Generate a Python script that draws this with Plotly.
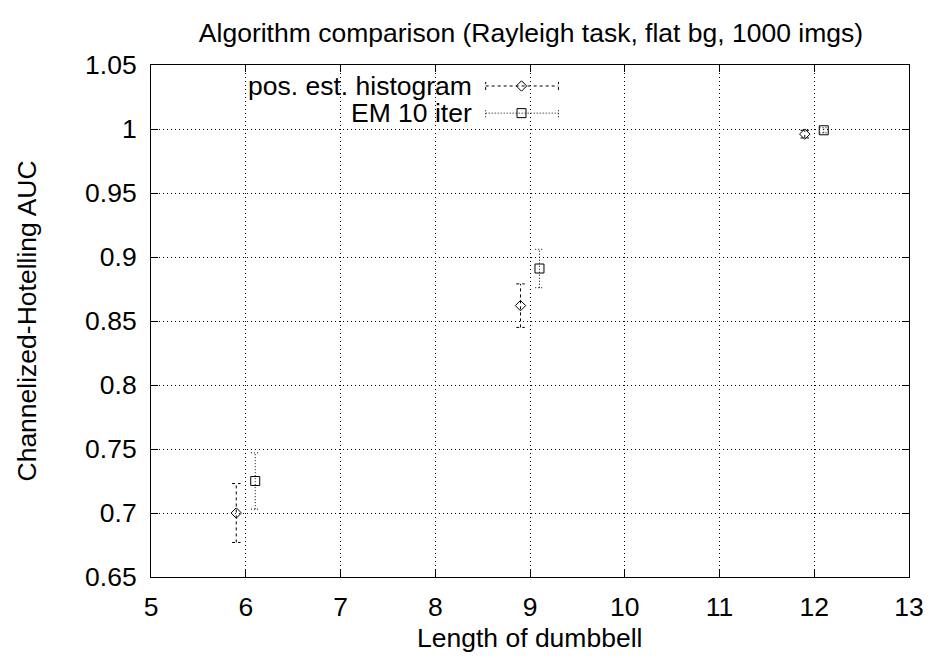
import plotly.graph_objects as go

# Data
hist_x = [5.9, 8.9, 11.9]
hist_y = [0.700, 0.862, 0.996]
hist_err = [0.023, 0.017, 0.003]

em_x = [6.1, 9.1, 12.1]
em_y = [0.725, 0.891, 0.999]
em_err = [0.022, 0.015, 0.002]

series_names = ["pos. est. histogram", "EM 10 iter"]
x_ticks = [5, 6, 7, 8, 9, 10, 11, 12, 13]
y_ticks = [0.65, 0.7, 0.75, 0.8, 0.85, 0.9, 0.95, 1.0, 1.05]

FONT = "Liberation Sans, Arial, sans-serif"
FS = 26.5
CAP = 0.045  # half cap width in x units


def errbar_path(xs, ys, errs):
    px, py = [], []
    for x, y, e in zip(xs, ys, errs):
        px += [x, x, None, x - CAP, x + CAP, None, x - CAP, x + CAP, None]
        py += [y - e, y + e, None, y - e, y - e, None, y + e, y + e, None]
    return px, py


fig = go.Figure()

styles = [
    dict(x=hist_x, y=hist_y, e=hist_err, dash="3px,3px", symbol="diamond-open", size=8),
    dict(x=em_x, y=em_y, e=em_err, dash="1px,2px", symbol="square-open", size=9),
]

for s in styles:
    ex, ey = errbar_path(s["x"], s["y"], s["e"])
    fig.add_trace(go.Scatter(x=ex, y=ey, mode="lines",
                             line=dict(color="black", width=1, dash=s["dash"]),
                             showlegend=False, hoverinfo="skip"))
    fig.add_trace(go.Scatter(x=s["x"], y=s["y"], mode="markers",
                             marker=dict(symbol=s["symbol"], size=s["size"], color="black",
                                         line=dict(width=1, color="black")),
                             showlegend=False))

# Custom gnuplot-style legend on an overlay axis
leg_y = [0.959, 0.906]
x0, x1, xm = 0.4415, 0.5375, 0.4888
for s, ly, name in zip(styles, leg_y, series_names):
    fig.add_trace(go.Scatter(x=[x0, x1, None, x0, x0, None, x1, x1], y=[ly, ly, None, ly - 0.008, ly + 0.008, None, ly - 0.008, ly + 0.008],
                             mode="lines", line=dict(color="black", width=1, dash=s["dash"]),
                             xaxis="x2", yaxis="y2", showlegend=False, hoverinfo="skip"))
    fig.add_trace(go.Scatter(x=[xm], y=[ly], mode="markers",
                             marker=dict(symbol=s["symbol"], size=s["size"], color="black",
                                         line=dict(width=1, color="black")),
                             xaxis="x2", yaxis="y2", showlegend=False, hoverinfo="skip"))
    fig.add_annotation(x=0.4258, y=ly, xref="paper", yref="paper", text=name,
                       showarrow=False, xanchor="right", yanchor="middle",
                       font=dict(family=FONT, size=FS, color="black"))

axis_common = dict(showline=True, linecolor="black", linewidth=1, mirror="ticks",
                   ticks="inside", ticklen=7, tickcolor="black", showgrid=True,
                   gridcolor="black", griddash="1px,3px", gridwidth=1, zeroline=False,
                   tickfont=dict(family=FONT, size=FS, color="black"))

fig.update_layout(
    width=936, height=658,
    margin=dict(l=151, r=24, t=65, b=81),
    paper_bgcolor="white", plot_bgcolor="white",
    title=dict(text="Algorithm comparison (Rayleigh task, flat bg, 1000 imgs)",
               x=531 / 936, xanchor="center", y=1 - 33 / 658, yanchor="middle",
               font=dict(family=FONT, size=FS, color="black")),
    xaxis=dict(range=[5, 13], tickvals=x_ticks, ticktext=[str(v) for v in x_ticks],
               ticklabelstandoff=6,
               **axis_common),
    yaxis=dict(range=[0.65, 1.05], tickvals=y_ticks,
               ticktext=["0.65", "0.7", "0.75", "0.8", "0.85", "0.9", "0.95", "1", "1.05"],
               ticklabelstandoff=8,
               **axis_common),
    xaxis2=dict(range=[0, 1], overlaying="x", visible=False, fixedrange=True),
    yaxis2=dict(range=[0, 1], overlaying="y", visible=False, fixedrange=True),
    showlegend=False,
)

# Axis titles placed as annotations for precise placement
fig.add_annotation(x=(531 - 151) / 761, y=(577 - 638) / 512, xref="paper", yref="paper",
                   text="Length of dumbbell", showarrow=False, xanchor="center", yanchor="middle",
                   font=dict(family=FONT, size=FS, color="black"))
fig.add_annotation(x=(27 - 151) / 761, y=(577 - 321) / 512, xref="paper", yref="paper",
                   text="Channelized-Hotelling AUC", showarrow=False, textangle=-90,
                   xanchor="center", yanchor="middle",
                   font=dict(family=FONT, size=FS, color="black"))

fig.write_html("out.html")
